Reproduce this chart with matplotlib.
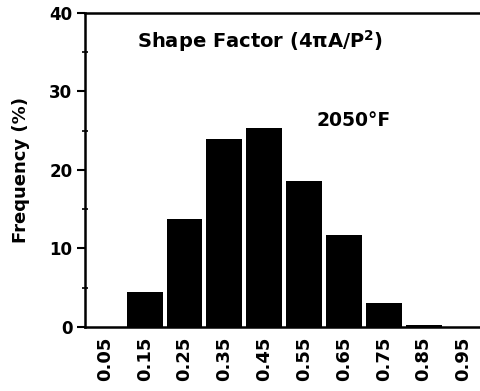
import matplotlib
matplotlib.use("Agg")
import matplotlib.pyplot as plt
from matplotlib.ticker import MultipleLocator

# shape factor bins (centres) and frequency (%)
bins = [0.05, 0.15, 0.25, 0.35, 0.45, 0.55, 0.65, 0.75, 0.85, 0.95]
freq = [0.0, 4.5, 13.8, 23.9, 25.4, 18.6, 11.7, 3.1, 0.3, 0.0]
labels = ["0.05", "0.15", "0.25", "0.35", "0.45", "0.55", "0.65", "0.75", "0.85", "0.95"]

plt.rcParams['font.family'] = ['DejaVu Sans']

fig = plt.figure(figsize=(4.8, 3.91), dpi=100)
ax = fig.add_axes([0.177, 0.164, 0.83, 0.803])

ax.bar(bins, freq, width=0.09, color='black')

ax.set_xlim(0, 1.0)
ax.set_ylim(0, 40)
ax.yaxis.set_major_locator(MultipleLocator(10))
ax.yaxis.set_minor_locator(MultipleLocator(5))
ax.set_xticks(bins)
ax.set_xticklabels(labels, rotation=90, fontweight='bold', fontsize=13)
ax.tick_params(axis='x', length=0, pad=7)
ax.tick_params(axis='y', which='major', length=6, width=1.5, labelsize=12, pad=3)
ax.tick_params(axis='y', which='minor', length=4, width=1.2, direction='inout')
for t in ax.get_yticklabels():
    t.set_fontweight('bold')

for s in ax.spines.values():
    s.set_linewidth(1.8)
ax.spines['right'].set_visible(False)

ax.set_ylabel('Frequency (%)', fontweight='bold', fontsize=13, labelpad=14)

ax.text(0.13, 0.89, 'Shape Factor (4\u03c0A/P$^\\mathbf{2}$)', transform=ax.transAxes,
        fontsize=14, fontweight='bold')
ax.text(0.58, 0.64, '2050\u00b0F', transform=ax.transAxes,
        fontsize=13.5, fontweight='bold')

fig.savefig('out.png', dpi=100)
